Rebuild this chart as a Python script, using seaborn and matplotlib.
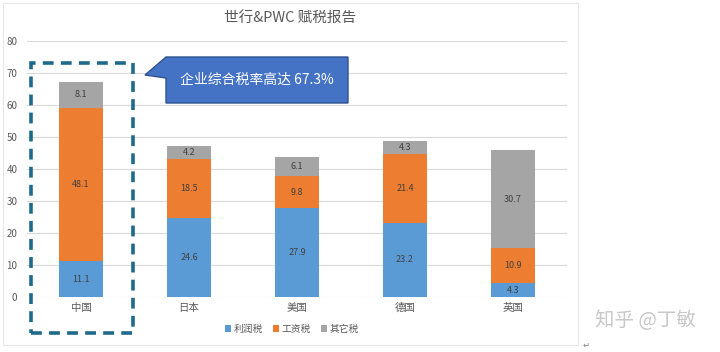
import matplotlib
matplotlib.use("Agg")
import matplotlib.pyplot as plt
import seaborn as sns
import pandas as pd
import numpy as np
from matplotlib.patches import Rectangle, Polygon, Patch

categories = ["中国", "日本", "美国", "德国", "英国"]
profit_tax = [11.1, 24.6, 27.9, 23.2, 4.3]
labor_tax = [48.1, 18.5, 9.8, 21.4, 10.9]
other_tax = [8.1, 4.2, 6.1, 4.3, 30.7]
series_names = ["利润税", "工资税", "其它税"]
yticks = [0, 10, 20, 30, 40, 50, 60, 70, 80]
title = "世行&PWC 赋税报告"
callout = "企业综合税率高达 67.3%"
watermark = "知乎 @丁敏"

colors = ["#5B9BD5", "#ED7D31", "#A5A5A5"]

sns.set_theme(style="white")
plt.rcParams['font.family'] = ['Noto Sans CJK SC', 'DejaVu Sans']

fig = plt.figure(figsize=(7.2, 3.52), dpi=100)
ax = fig.add_axes([27/720, 55/352, 540/720, 256/352])

p = np.array(profit_tax)
l = np.array(labor_tax)
o = np.array(other_tax)
cum1 = p
cum2 = p + l
cum3 = p + l + o

df = pd.DataFrame({"cat": categories, "c1": cum1, "c2": cum2, "c3": cum3})
for col, c in zip(["c3", "c2", "c1"], [colors[2], colors[1], colors[0]]):
    sns.barplot(data=df, x="cat", y=col, color=c, width=0.4, ax=ax,
                saturation=1, linewidth=0, zorder=3)

ax.set_xlim(-0.5, 4.5)
ax.set_ylim(0, 80)
ax.set_yticks(yticks)
ax.set_yticklabels([str(v) for v in yticks])
ax.yaxis.grid(True, color="#D9D9D9", linewidth=0.8, zorder=0)
ax.set_axisbelow(True)
for s in ax.spines.values():
    s.set_visible(False)
ax.set_xlabel("")
ax.set_ylabel("")
ax.tick_params(axis="both", length=0, colors="#595959")
ax.tick_params(axis="y", labelsize=7, pad=7)
ax.tick_params(axis="x", labelsize=7.5, pad=4)

# segment labels
for i in range(len(categories)):
    bottoms = [0, cum1[i], cum2[i]]
    vals = [p[i], l[i], o[i]]
    for b, v in zip(bottoms, vals):
        ax.text(i, b + v / 2, f"{v:.1f}", ha="center", va="center",
                fontsize=6.5, color="#404040", zorder=5)

# title
fig.text(290/720, 1 - 18/352, title, ha="center", va="center",
         fontsize=10.5, color="#595959")

# legend
handles = [Patch(facecolor=c, edgecolor="none") for c in colors]
fig.legend(handles, series_names, loc="center", bbox_to_anchor=(292/720, 1 - 329/352),
           ncol=3, frameon=False, fontsize=7, handlelength=0.6, handleheight=0.6,
           handletextpad=0.3, columnspacing=1.0, labelcolor="#595959")

# chart border
fig.patches.append(Rectangle((3/720, 1 - 345/352), 575/720, 342/352,
                             transform=fig.transFigure, fill=False,
                             edgecolor="#E6E6E6", linewidth=0.8))

# dashed highlight box
fig.patches.append(Rectangle((31/720, 1 - 333/352), 102/720, 270/352,
                             transform=fig.transFigure, fill=False,
                             edgecolor="#1F6A8A", linewidth=2.6,
                             linestyle=(0, (3, 2)), zorder=10))

# callout box with pointer (wedge-rect callout)
bx0, by0, bx1, by1 = 166, 57, 348, 103
tipx, tipy = 145, 75
outline = [(bx0, by0), (bx1, by0), (bx1, by1), (bx0, by1), (bx0, 78), (tipx, tipy), (bx0, by0)]
poly = Polygon([(x/720, 1 - y/352) for x, y in outline], closed=True,
               transform=fig.transFigure, facecolor="#4472C4",
               edgecolor="#2F528F", linewidth=1.0, zorder=10)
fig.patches.append(poly)
fig.text((bx0 + bx1) / 2 / 720, 1 - 80/352, callout, ha="center", va="center",
         fontsize=10, color="white", zorder=12)

# watermark
fig.text(645/720, 1 - 320/352, watermark, ha="center", va="center",
         fontsize=14, color="#C8C8C8")
fig.text(586/720, 1 - 345/352, "↵", ha="center", va="center",
         fontsize=6, color="#808080", family=["DejaVu Sans"])

fig.savefig("out.png", dpi=100, facecolor="white")
